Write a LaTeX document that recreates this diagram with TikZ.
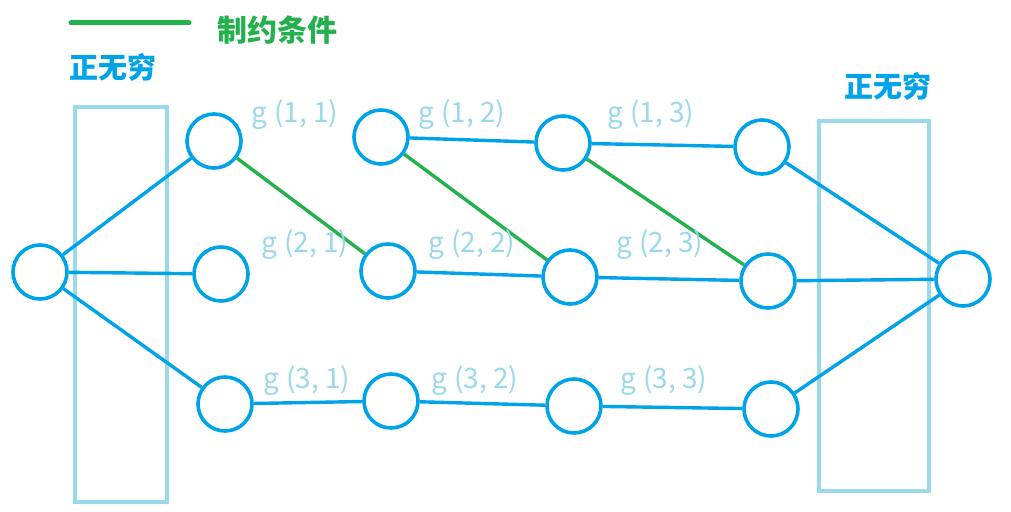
\documentclass[tikz,border=0pt]{standalone}
\usepackage{fontspec}
\newfontfamily\cjk{Noto Sans CJK SC}
\definecolor{cblue}{HTML}{00A2E8}
\definecolor{lblue}{HTML}{99D9EA}
\definecolor{cgreen}{HTML}{22B14C}
\begin{document}
\begin{tikzpicture}[x=1pt,y=-1pt,
  st/.style={circle,draw=cblue,line width=3.6pt,minimum size=54pt,inner sep=0pt},
  edge/.style={draw=cblue,line width=3.4pt},
  cons/.style={draw=cgreen,line width=3.4pt},
  box/.style={draw=lblue,line width=4.5pt},
  glab/.style={text=lblue,font=\cjk\fontsize{28}{30}\selectfont,inner sep=0pt},
  inf/.style={text=cblue,font=\cjk\bfseries\fontsize{29}{32}\selectfont,inner sep=0pt}]
\useasboundingbox (0,0) rectangle (1011,511);
\draw[box] (75,107) rectangle (167,502);
\draw[box] (819,121) rectangle (929,491);
\node[st] (s) at (40,272) {};
\node[st] (a1) at (214,141) {};
\node[st] (a2) at (381,137) {};
\node[st] (a3) at (563,143) {};
\node[st] (a4) at (762,147) {};
\node[st] (b1) at (221,274) {};
\node[st] (b2) at (388,271) {};
\node[st] (b3) at (570,277) {};
\node[st] (b4) at (768,281) {};
\node[st] (c1) at (225,404) {};
\node[st] (c2) at (391,401) {};
\node[st] (c3) at (574,406) {};
\node[st] (c4) at (771,409) {};
\node[st] (t) at (963,279) {};
\draw[edge] (s) -- (a1);
\draw[edge] (s) -- (b1);
\draw[edge] (s) -- (c1);
\draw[edge] (a2) -- (a3);
\draw[edge] (a3) -- (a4);
\draw[edge] (a4) -- (t);
\draw[edge] (b2) -- (b3);
\draw[edge] (b3) -- (b4);
\draw[edge] (b4) -- (t);
\draw[edge] (c1) -- (c2);
\draw[edge] (c2) -- (c3);
\draw[edge] (c3) -- (c4);
\draw[edge] (c4) -- (t);
\draw[cons] (a1) -- (b2);
\draw[cons] (a2) -- (b3);
\draw[cons] (a3) -- (b4);
\node[glab] (g11) at (295,115) {g (1, 1)};
\node[glab] (g12) at (462,115) {g (1, 2)};
\node[glab] (g13) at (651,115) {g (1, 3)};
\node[glab] (g21) at (305,245) {g (2, 1)};
\node[glab] (g22) at (472,245) {g (2, 2)};
\node[glab] (g23) at (660,245) {g (2, 3)};
\node[glab] (g31) at (307,381) {g (3, 1)};
\node[glab] (g32) at (475,381) {g (3, 2)};
\node[glab] (g33) at (664,381) {g (3, 3)};
\coordinate (l1) at (71,23);
\coordinate (l2) at (189,23);
\draw[draw=cgreen,line width=5pt,line cap=round] (l1) -- (l2);
\node[text=cgreen,font=\cjk\bfseries\fontsize{30}{32}\selectfont,inner sep=0pt] (leg) at (277,30) {制约条件};
\node[inf] (inf1) at (113,67) {正无穷};
\node[inf] (inf2) at (888,86) {正无穷};
\end{tikzpicture}
\end{document}
